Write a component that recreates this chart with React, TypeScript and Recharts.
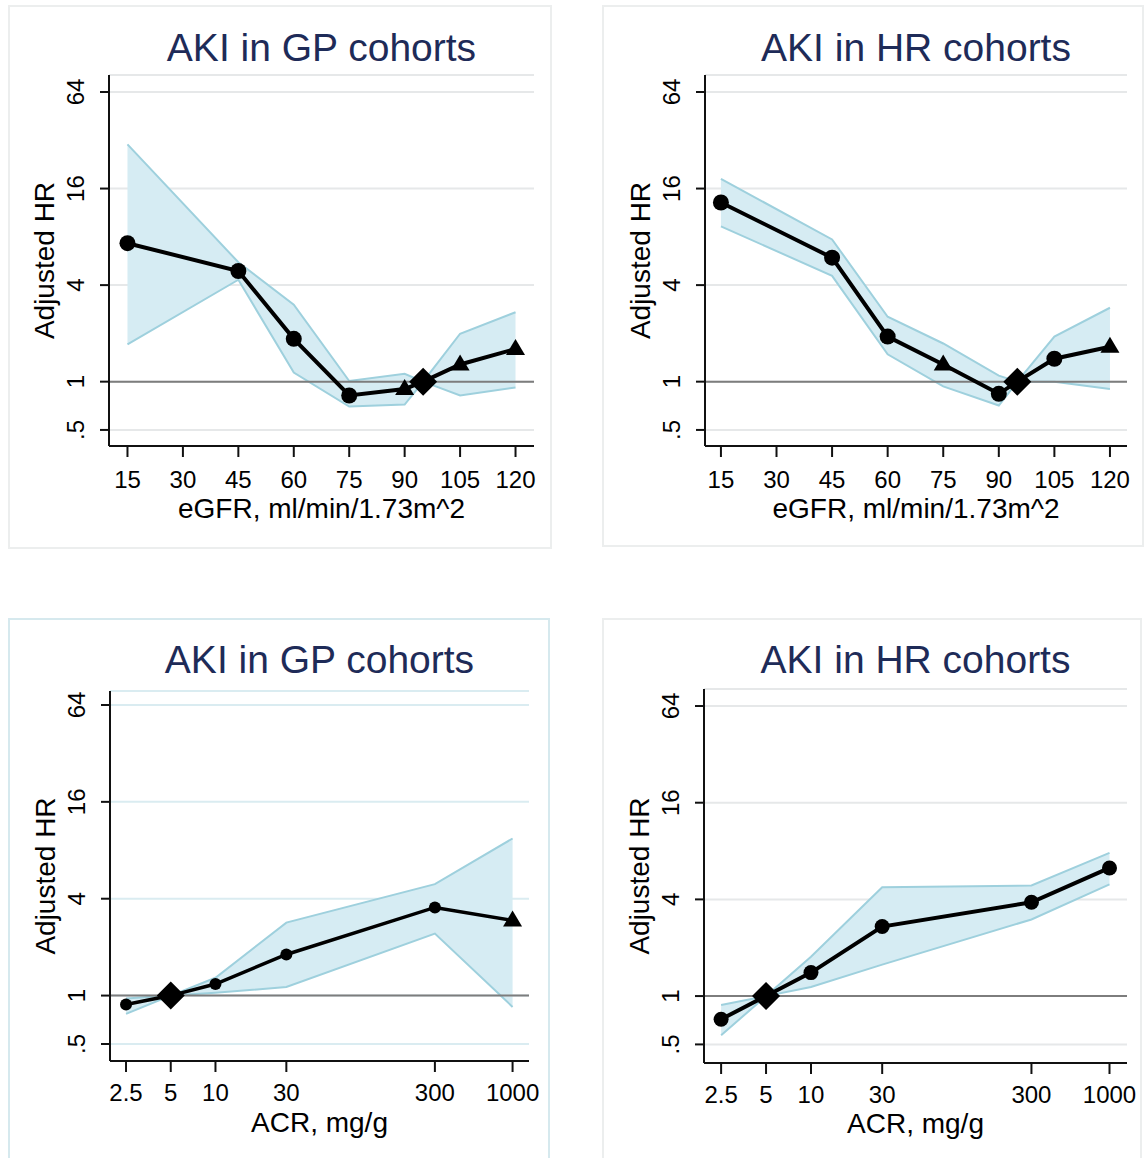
import React from 'react';
import { ComposedChart, Area, Line, XAxis, YAxis, CartesianGrid, ReferenceLine } from 'recharts';

const FONT = '"Liberation Sans", Arial, Helvetica, sans-serif';

// ---------- data ----------
const HR_TICKS = [0.5, 1, 4, 16, 64];
const EGFR_TICKS = [15, 30, 45, 60, 75, 90, 105, 120];
const ACR_TICKS = [2.5, 5, 10, 30, 300, 1000];

const EGFR_X = [15, 45, 60, 75, 90, 95, 105, 120];
const ACR_X = [2.5, 5, 10, 30, 300, 1000];

// AKI in GP cohorts, eGFR
const GP_EGFR_HR = [7.3, 4.9, 1.85, 0.82, 0.9, 1, 1.28, 1.6];
const GP_EGFR_LO = [1.71, 4.32, 1.14, 0.7, 0.72, 1, 0.82, 0.92];
const GP_EGFR_HI = [30.2, 5.55, 3.02, 1.01, 1.12, 1, 1.99, 2.71];
const GP_EGFR_SHAPE = ['circle', 'circle', 'circle', 'circle', 'triangle', 'diamond', 'triangle', 'triangle'];

// AKI in HR cohorts, eGFR
const HRC_EGFR_HR = [13.1, 5.93, 1.91, 1.28, 0.84, 1, 1.39, 1.65];
const HRC_EGFR_LO = [9.3, 4.57, 1.48, 0.935, 0.71, 1, 1.0, 0.9];
const HRC_EGFR_HI = [18.4, 7.7, 2.54, 1.73, 1.09, 1, 1.91, 2.89];
const HRC_EGFR_SHAPE = ['circle', 'circle', 'circle', 'triangle', 'circle', 'diamond', 'circle', 'triangle'];

// AKI in GP cohorts, ACR
const GP_ACR_HR = [0.88, 1, 1.18, 1.8, 3.53, 2.93];
const GP_ACR_LO = [0.77, 1, 1.04, 1.13, 2.43, 0.85];
const GP_ACR_HI = [0.96, 1, 1.29, 2.84, 4.93, 9.47];
const GP_ACR_SHAPE = ['circle', 'diamond', 'circle', 'circle', 'circle', 'triangle'];

// AKI in HR cohorts, ACR
const HRC_ACR_HR = [0.717, 1, 1.4, 2.71, 3.84, 6.28];
const HRC_ACR_LO = [0.57, 1, 1.14, 1.57, 3.0, 4.96];
const HRC_ACR_HI = [0.88, 1, 1.76, 4.76, 4.88, 7.8];
const HRC_ACR_SHAPE = ['circle', 'diamond', 'circle', 'circle', 'circle', 'circle'];

const buildRows = (x: number[], hr: number[], lo: number[], hi: number[], shape: string[]) =>
  x.map((v, i) => ({ x: v, hr: hr[i], band: [lo[i], hi[i]], shape: shape[i] }));

// ---------- layout ----------
const YW = 80;
const XH = 80;

const PANELS = [
  {
    title: 'AKI in GP cohorts', xLabel: 'eGFR, ml/min/1.73m^2',
    rows: buildRows(EGFR_X, GP_EGFR_HR, GP_EGFR_LO, GP_EGFR_HI, GP_EGFR_SHAPE),
    xScale: 'linear', xDomain: [10, 125], xTicks: EGFR_TICKS, yDomain: [0.397, 81.7],
    frame: { left: 8, top: 5, width: 544, height: 544, color: '#eceeee', bottom: true },
    plot: { left: 109, top: 75, right: 534, bottom: 446 },
    gridColor: '#e6e8e9', dotR: 8, triH: 10, lineW: 4, labelBase: 72, tickMargin: 14, titleBase: 61,
  },
  {
    title: 'AKI in HR cohorts', xLabel: 'eGFR, ml/min/1.73m^2',
    rows: buildRows(EGFR_X, HRC_EGFR_HR, HRC_EGFR_LO, HRC_EGFR_HI, HRC_EGFR_SHAPE),
    xScale: 'linear', xDomain: [10.7, 124.6], xTicks: EGFR_TICKS, yDomain: [0.397, 81.7],
    frame: { left: 602, top: 5, width: 542, height: 542, color: '#eceeee', bottom: true },
    plot: { left: 705, top: 75, right: 1127, bottom: 446 },
    gridColor: '#e6e8e9', dotR: 8, triH: 10, lineW: 4, labelBase: 72, tickMargin: 14, titleBase: 61,
  },
  {
    title: 'AKI in GP cohorts', xLabel: 'ACR, mg/g',
    rows: buildRows(ACR_X, GP_ACR_HR, GP_ACR_LO, GP_ACR_HI, GP_ACR_SHAPE),
    xScale: 'log', xDomain: [1.95, 1290], xTicks: ACR_TICKS, yDomain: [0.392, 78.2],
    frame: { left: 8, top: 618, width: 542, height: 540, color: '#d6e9ee', bottom: false },
    plot: { left: 110, top: 691, right: 529, bottom: 1061 },
    gridColor: '#daecf1', dotR: 6, triH: 10, lineW: 3.5, labelBase: 71, tickMargin: 12, titleBase: 673,
  },
  {
    title: 'AKI in HR cohorts', xLabel: 'ACR, mg/g',
    rows: buildRows(ACR_X, HRC_ACR_HR, HRC_ACR_LO, HRC_ACR_HI, HRC_ACR_SHAPE),
    xScale: 'log', xDomain: [1.92, 1310], xTicks: ACR_TICKS, yDomain: [0.383, 81.7],
    frame: { left: 602, top: 618, width: 540, height: 540, color: '#eceeee', bottom: false },
    plot: { left: 704, top: 689, right: 1127, bottom: 1063 },
    gridColor: '#e6e8e9', dotR: 7.5, triH: 10, lineW: 4, labelBase: 70, tickMargin: 12, titleBase: 673,
  },
];

const fmtHR = (v: number) => (v === 0.5 ? '.5' : String(v));

const YTick = (props: any) => {
  const { x, y, payload } = props;
  return (
    <text
      transform={`translate(${x - 25},${y}) rotate(-90)`}
      textAnchor="middle"
      dy="0.36em"
      fontSize={24}
      fontFamily={FONT}
      fill="#000"
    >
      {fmtHR(payload.value)}
    </text>
  );
};

const makeDot = (r: number, h: number) => (props: any) => {
  const { cx, cy, payload, index } = props;
  if (cx == null || cy == null) return <g key={`e${index}`} />;
  const s = payload.shape;
  if (s === 'diamond') {
    const d = 14;
    return (
      <polygon key={`d${index}`} points={`${cx},${cy - d} ${cx + d},${cy} ${cx},${cy + d} ${cx - d},${cy}`} fill="#000" />
    );
  }
  if (s === 'triangle') {
    return (
      <polygon
        key={`t${index}`}
        points={`${cx},${cy - h} ${cx + h * 0.95},${cy + h * 0.6} ${cx - h * 0.95},${cy + h * 0.6}`}
        fill="#000"
      />
    );
  }
  return <circle key={`c${index}`} cx={cx} cy={cy} r={r} fill="#000" />;
};

const Panel = ({ p }: { p: any }) => {
  const { frame, plot } = p;
  const margin = {
    left: plot.left - frame.left - YW,
    right: frame.left + frame.width - plot.right,
    top: plot.top - frame.top,
    bottom: frame.top + frame.height - plot.bottom - XH,
  };
  const titleSize = 39;
  return (
    <>
      <div
        style={{
          position: 'absolute',
          left: frame.left,
          top: frame.top,
          width: frame.width,
          height: frame.height,
          boxSizing: 'border-box',
          border: `2px solid ${frame.color}`,
          borderBottom: frame.bottom ? `2px solid ${frame.color}` : 'none',
        }}
      />
      <div style={{ position: 'absolute', left: frame.left, top: frame.top }}>
        <ComposedChart width={frame.width} height={frame.height} data={p.rows} margin={margin}>
          <CartesianGrid horizontal vertical={false} stroke={p.gridColor} strokeWidth={2} />
          <XAxis
            dataKey="x"
            type="number"
            scale={p.xScale}
            domain={p.xDomain}
            ticks={p.xTicks}
            allowDataOverflow
            interval={0}
            height={XH}
            tickSize={11}
            tickMargin={p.tickMargin}
            axisLine={{ stroke: '#111', strokeWidth: 2 }}
            tickLine={{ stroke: '#111', strokeWidth: 2 }}
            tick={{ fontSize: 24, fill: '#000', fontFamily: FONT }}
            tickFormatter={(v: number) => String(v)}
            label={{
              value: p.xLabel,
              position: 'insideBottom',
              offset: XH - p.labelBase,
              fontSize: 28,
              fill: '#000',
              fontFamily: FONT,
            }}
          />
          <YAxis
            type="number"
            scale="log"
            domain={p.yDomain}
            ticks={HR_TICKS}
            allowDataOverflow
            interval={0}
            width={YW}
            tickSize={9}
            tickMargin={0}
            axisLine={{ stroke: '#111', strokeWidth: 2 }}
            tickLine={{ stroke: '#111', strokeWidth: 2 }}
            tick={(tp: any) => <YTick {...tp} />}
            label={{
              value: 'Adjusted HR',
              angle: -90,
              position: 'insideLeft',
              offset: 15,
              fontSize: 28,
              fill: '#000',
              fontFamily: FONT,
              style: { textAnchor: 'middle' },
            }}
          />
          <Area
            type="linear"
            dataKey="band"
            fill="#d6ecf3"
            fillOpacity={1}
            stroke="#9ed0dd"
            strokeWidth={2}
            dot={false}
            activeDot={false}
            isAnimationActive={false}
          />
          <ReferenceLine y={1} stroke="#7d7d7d" strokeWidth={2} />
          <Line
            type="linear"
            dataKey="hr"
            stroke="#000"
            strokeWidth={p.lineW}
            dot={makeDot(p.dotR, p.triH)}
            activeDot={false}
            isAnimationActive={false}
          />
        </ComposedChart>
      </div>
      <div
        style={{
          position: 'absolute',
          left: plot.left,
          width: plot.right - plot.left,
          top: p.titleBase - Math.round(titleSize * 0.8465),
          textAlign: 'center',
          fontFamily: FONT,
          fontSize: titleSize,
          lineHeight: 1,
          color: '#1e2b58',
          whiteSpace: 'nowrap',
        }}
      >
        {p.title}
      </div>
    </>
  );
};

export default function App() {
  return (
    <div
      style={{
        position: 'absolute',
        left: 0,
        top: 0,
        width: 1146,
        height: 1158,
        background: '#fff',
        overflow: 'hidden',
      }}
    >
      {PANELS.map((p, i) => (
        <Panel key={i} p={p} />
      ))}
    </div>
  );
}
